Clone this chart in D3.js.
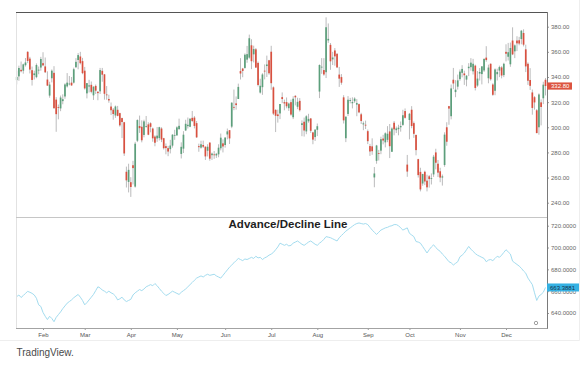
<!DOCTYPE html>
<html><head><meta charset="utf-8">
<script src="https://cdn.jsdelivr.net/npm/d3@7"></script>
<style>
html,body{margin:0;padding:0;background:#fff;}
svg{display:block;font-family:"Liberation Sans",Arial,sans-serif;}
</style></head><body>
<svg id="c" width="588" height="366"></svg>
<script>
// ---- data ----
const holidays = ["2018-02-19","2018-03-30","2018-05-28","2018-07-04","2018-09-03","2018-11-22","2018-12-05","2018-12-25"];
const monthLabels = ["Feb","Mar","Apr","May","Jun","Jul","Aug","Sep","Oct","Nov","Dec"];
const upperTicks = [240,260,280,300,320,340,360,380];
const lowerTicks = [640,660,680,700,720];
const lastPrice = 332.80;
const lastAD = 663.3881;

const opens = [
337.5,340.5,345.7,345.0,349.4,360.0,354.6,345.4,341.5,339.9,345.1,347.5,
351.0,348.4,337.97,325.2,338.99,343.3,322.0,316.1,315.0,320.8,324.5,332.5,334.5,335.5,335.5,347.8,353.5,356.3,352.6,
345.0,326.98,332.4,333.75,325.4,332.9,328.2,328.6,344.9,342.1,326.1,322.5,316.5,314.0,309.4,313.9,311.25,307.3,304.0,264.6,256.5,
256.3,269.8,252.8,289.3,301.0,300.4,293.9,300.7,302.3,303.2,299.0,292.6,291.1,291.4,299.0,291.3,285.0,283.4,282.6,285.4,293.6,
293.6,298.6,278.8,283.0,297.5,300.9,300.4,307.5,307.7,303.3,285.0,283.8,285.9,284.6,281.3,287.8,277.8,278.4,277.6,278.5,283.3,287.2,
285.9,294.3,297.7,300.5,316.2,319.0,322.5,344.7,346.7,347.2,353.8,355.4,365.2,358.0,362.0,351.2,327.6,331.9,345.0,348.7,353.3,
360.1,331.75,313.8,310.2,311.0,324.0,320.0,320.0,315.2,320.0,308.0,325.0,316.3,321.0,301.8,304.4,296.7,304.8,307.0,295.9,292.2,
297.99,328.4,347.8,345.5,343.8,369.1,365.55,354.0,361.1,358.4,341.9,339.9,323.8,291.3,310.6,320.9,319.1,320.7,318.0,318.4,310.3,302.3,302.0,
296.9,285.05,284.8,260.1,273.3,279.5,281.4,291.0,288.0,290.0,296.7,280.5,303.6,297.7,298.5,300.0,301.9,312.9,270.3,
305.8,313.95,303.3,293.95,274.65,264.5,255.25,264.6,257.5,261.0,259.1,262.5,280.0,271.0,265.0,260.0,270.0,300.0,316.8,308.8,337.8,328.0,332.3,
338.3,343.3,342.8,337.9,347.0,347.8,344.5,349.0,333.2,342.7,342.3,345.2,355.4,339.0,350.5,334.0,329.0,342.2,345.1,347.6,341.5,
360.0,356.1,350.1,369.0,360.4,369.0,369.2,370.2,375.0,362.0,350.5,337.6,327.7,323.9,313.5,300.0,319.8,323.1,337.8];

const highs = [
345.0,349.0,352.3,350.6,355.1,360.5,356.0,348.3,345.0,350.8,348.3,356.0,
359.7,355.5,344.5,336.2,346.0,348.6,323.95,318.1,325.2,326.2,335.0,343.1,340.8,340.0,347.4,354.99,359.0,359.99,355.2,
348.0,335.2,337.75,336.4,332.5,334.0,328.8,347.2,347.2,342.4,332.8,325.9,319.7,315.3,317.3,317.0,311.6,307.6,304.3,268.7,270.99,
260.3,273.3,288.4,306.3,309.3,305.5,306.0,308.98,303.95,303.95,299.7,293.6,300.2,300.4,300.0,291.6,287.1,285.2,290.0,294.5,298.0,
300.8,306.85,288.0,296.9,305.98,307.75,307.0,312.99,308.9,304.94,286.96,289.3,289.4,284.65,286.5,288.0,279.9,281.1,279.6,286.5,295.0,290.4,
291.95,299.0,297.8,320.0,330.0,324.5,334.7,354.97,347.2,358.75,364.7,373.7,370.0,364.9,363.0,352.3,338.6,343.0,350.0,357.0,353.6,
364.8,332.5,314.4,314.0,318.5,327.7,322.0,323.7,319.6,322.0,324.7,325.5,323.5,323.2,305.5,307.7,309.6,310.7,307.4,296.4,298.3,
303.0,349.99,355.0,354.98,387.46,382.6,367.0,360.0,363.0,359.0,348.0,342.3,325.5,308.5,324.8,323.4,323.8,323.85,322.4,318.9,311.5,304.6,305.3,
298.2,286.8,291.2,268.35,286.0,282.0,292.5,294.0,296.0,300.9,302.6,300.0,305.0,300.6,302.0,304.6,313.9,314.96,278.0,
311.4,316.8,304.6,294.0,274.9,267.8,263.0,265.5,262.25,261.99,263.3,278.0,282.9,274.0,267.8,262.4,296.0,304.0,316.99,334.0,347.2,337.5,341.9,
346.0,349.4,345.0,341.4,351.0,355.0,354.4,349.8,344.7,347.1,348.6,355.0,364.5,349.8,350.8,335.0,346.8,346.6,349.0,348.6,351.3,
366.0,367.1,367.4,379.5,365.9,372.4,371.9,377.4,377.9,365.7,351.6,347.0,330.0,324.8,314.5,326.97,322.2,336.2,339.2];

const lows = [
334.1,337.0,343.7,342.6,348.3,351.0,342.8,333.2,338.0,339.0,342.2,345.0,
348.6,343.2,333.0,323.5,335.7,314.6,296.4,306.3,312.8,318.3,322.7,331.6,333.3,333.0,334.8,347.1,346.1,350.0,342.2,
330.0,322.97,327.7,327.0,321.74,326.5,321.5,326.5,336.2,322.0,321.9,319.5,309.7,306.0,307.5,308.7,300.5,291.4,277.2,252.1,248.2,
244.6,254.5,252.0,288.2,295.5,288.0,292.0,299.7,293.7,295.98,288.5,284.9,288.4,289.5,288.2,282.3,278.5,277.0,279.2,283.8,290.0,
293.1,297.8,275.2,279.5,297.0,299.0,300.05,304.1,299.1,291.6,280.5,283.0,283.5,274.0,276.8,273.4,274.0,274.9,275.6,276.15,281.6,280.0,
283.8,290.4,286.7,299.3,313.6,314.0,322.5,338.0,339.8,346.6,351.3,354.5,346.25,351.6,347.2,332.5,326.8,325.8,338.1,340.0,341.8,
329.85,309.7,296.2,303.7,306.5,319.2,313.5,315.1,313.0,309.2,306.5,317.4,314.4,312.5,292.9,292.6,294.5,303.6,295.5,286.5,289.1,
293.0,323.2,342.5,341.0,339.15,367.1,345.7,349.5,349.0,347.1,332.1,333.8,303.0,288.2,309.0,319.0,315.0,319.4,308.8,311.2,302.6,297.7,298.6,
286.6,277.2,278.1,252.3,271.0,273.6,278.6,286.4,284.0,288.1,275.5,280.5,293.6,295.4,293.6,296.5,301.1,306.9,260.6,
290.4,299.2,291.6,277.7,260.0,249.0,253.5,254.0,249.0,252.0,254.5,260.5,266.5,260.4,256.3,253.6,268.6,285.3,302.0,306.3,330.3,323.9,330.0,
337.0,339.7,333.7,332.6,340.7,345.0,342.0,329.3,332.2,337.2,334.1,344.0,352.1,335.0,337.1,325.0,325.5,337.2,339.9,338.9,339.9,
352.4,353.1,348.1,357.4,355.0,360.6,365.2,366.0,364.3,343.9,333.7,329.7,310.0,314.0,295.2,294.1,301.5,318.4,325.3];

const closes = [
340.06,347.16,344.57,350.02,351.56,352.79,345.89,337.64,342.85,349.53,345.82,354.31,
349.25,343.75,333.13,333.97,345.00,315.23,310.42,315.73,323.66,322.31,334.07,335.49,334.77,333.30,346.17,352.05,357.42,350.99,343.06,
330.93,335.12,333.35,328.20,332.30,329.10,327.17,345.51,341.84,326.63,325.60,321.35,313.56,310.55,316.53,309.10,301.54,304.18,279.18,257.78,266.13,
252.48,267.53,286.94,305.72,299.30,289.66,304.70,300.93,294.08,300.34,291.21,287.69,293.35,300.08,290.24,283.37,283.46,280.69,285.48,294.08,293.90,
299.92,301.15,284.45,294.09,302.77,301.97,306.85,305.02,301.06,291.97,284.18,286.48,284.54,276.82,284.49,275.01,279.07,277.85,278.85,283.76,291.72,284.73,
291.82,296.74,291.13,319.50,316.09,317.66,332.10,342.77,344.78,357.72,358.17,370.83,352.55,362.22,347.51,333.63,333.01,342.00,344.50,349.93,342.95,
335.07,310.86,309.16,308.90,318.51,322.47,318.96,316.71,318.87,310.10,322.69,323.85,320.23,313.58,303.20,297.43,308.74,306.65,297.18,290.17,298.14,
300.84,349.54,348.17,341.99,379.57,370.34,352.45,355.49,356.41,347.64,338.69,335.45,305.50,308.44,321.90,321.64,320.10,322.82,319.27,311.86,305.01,303.15,301.66,
288.95,280.74,280.95,263.24,285.50,279.44,290.54,289.46,295.20,294.84,284.96,299.02,298.33,299.10,299.68,300.99,309.58,307.52,264.77,
310.70,301.02,294.80,281.83,261.95,250.56,262.80,256.88,252.23,258.78,259.59,276.59,271.78,263.91,260.00,260.95,294.14,288.50,314.86,330.90,334.85,329.90,337.32,
344.28,346.41,341.40,341.06,348.16,351.40,350.51,331.28,338.73,344.00,348.44,354.31,353.47,347.49,338.19,325.83,346.00,343.92,347.87,341.17,350.48,
358.49,359.70,363.06,357.97,365.15,366.76,366.60,376.79,365.71,348.42,337.03,332.97,315.38,319.77,295.39,326.09,316.13,333.87,332.80];

const adLine = [
655.0,656.5,654.2,656.0,658.0,659.8,659.0,658.0,656.5,653.5,
647.5,646.0,640.5,637.0,634.0,637.0,635.0,632.0,636.0,638.5,
641.0,644.0,646.5,649.0,650.5,652.0,654.0,655.5,657.0,654.5,
651.5,647.5,649.5,652.0,654.5,657.0,660.5,664.0,663.0,661.0,
660.0,658.5,660.0,658.5,657.5,655.5,652.0,653.0,654.5,652.0,
650.5,651.5,652.5,656.5,658.5,660.0,661.5,660.5,662.0,664.0,
665.0,666.0,665.0,667.0,665.0,662.5,660.0,658.0,656.0,657.0,
658.5,660.0,659.0,658.0,657.0,659.0,660.5,662.0,664.0,666.0,
668.0,670.0,672.0,673.0,674.0,673.0,674.5,675.5,674.5,675.0,
675.5,674.0,673.0,672.0,674.5,677.0,679.5,682.0,684.0,686.0,
688.0,690.0,689.0,688.0,689.5,689.0,690.0,691.0,690.0,692.0,
690.5,691.0,689.0,690.5,691.5,693.0,694.0,695.5,698.0,700.5,
704.0,703.0,702.0,703.0,701.5,702.0,704.0,705.0,706.0,704.5,
703.0,702.0,703.5,705.0,706.0,704.5,703.0,702.0,704.0,705.5,
707.5,710.0,709.5,709.0,708.0,707.0,706.0,709.0,711.0,713.0,
715.0,716.5,718.0,719.5,721.0,722.0,722.5,722.0,721.5,722.0,
721.0,718.5,716.0,714.0,712.0,714.0,716.0,717.0,718.0,718.5,
719.5,720.0,721.0,721.0,720.0,718.0,716.0,717.0,718.0,713.0,
711.5,710.0,705.5,705.0,704.0,701.0,698.0,695.0,698.0,700.5,
702.5,700.0,698.0,696.5,694.0,692.0,689.5,687.0,686.0,684.0,
685.5,687.0,691.5,693.0,695.0,698.0,701.0,698.5,696.5,694.5,
693.0,692.0,691.0,690.0,687.0,688.5,689.0,688.0,690.0,692.0,
691.0,693.0,695.5,698.0,696.0,694.0,687.5,686.0,684.5,683.0,
681.0,678.5,676.5,672.0,669.0,666.0,658.5,651.5,655.5,657.0,
659.0,663.3881];

// ---- categories: trading days ----
const fmt = d3.timeFormat("%Y-%m-%d");
const dates = [];
for (let d = new Date(2018,0,16); d <= new Date(2018,11,31); d.setDate(d.getDate()+1)) {
  const w = d.getDay(); const s = fmt(d);
  if (w > 0 && w < 6 && !holidays.includes(s)) dates.push(s);
}
const n = Math.min(dates.length, opens.length);
const cats = dates.slice(0, n);

const svg = d3.select("#c");
const x = d3.scalePoint().domain(cats).range([16.7, 545.5]);
const yTop = d3.scaleLinear().domain([240, 380]).range([202.7, 26.7]);
const yBot = d3.scaleLinear().domain([640, 720]).range([313, 225.7]);

// frame
const frame = svg.append("g").attr("fill","none");
frame.append("line").attr("x1",579.5).attr("x2",579.5).attr("y1",0).attr("y2",340.5).attr("stroke","#eeeeee");
frame.append("line").attr("x1",0).attr("x2",579.5).attr("y1",340.5).attr("y2",340.5).attr("stroke","#eeeeee");
frame.append("line").attr("x1",16.5).attr("x2",16.5).attr("y1",12).attr("y2",328).attr("stroke","#e2e2e2");
frame.append("line").attr("x1",16).attr("x2",547).attr("y1",217.5).attr("y2",217.5).attr("stroke","#c6c6c6");

// candles
const candles = cats.map((d,i)=>({d, o:opens[i], h:highs[i], l:lows[i], c:closes[i]}));
const gC = svg.append("g");
gC.selectAll("line").data(candles).join("line")
  .attr("x1", d=>x(d.d)).attr("x2", d=>x(d.d))
  .attr("y1", d=>yTop(Math.max(d.h,d.o,d.c))).attr("y2", d=>yTop(Math.min(d.l,d.o,d.c)))
  .attr("stroke","#a9a9ab").attr("stroke-width",0.8);
gC.selectAll("rect").data(candles).join("rect")
  .attr("x", d=>x(d.d)-0.85).attr("width",1.7)
  .attr("y", d=>yTop(Math.max(d.o,d.c)))
  .attr("height", d=>Math.max(0.8, Math.abs(yTop(d.o)-yTop(d.c))))
  .attr("fill", d=> d.c >= d.o ? "#5c9f7b" : "#d9503f");

// A/D line
const ad = cats.map((d,i)=>({d, v:adLine[i]}));
svg.append("path").datum(ad)
  .attr("fill","none").attr("stroke","#a3dcef").attr("stroke-width",1)
  .attr("d", d3.line().x(d=>x(d.d)).y(d=>yBot(d.v)));

// title
svg.append("text").attr("x",288).attr("y",228).attr("text-anchor","middle")
  .attr("font-size",11.5).attr("font-weight","bold").attr("fill","#1f1f1f")
  .text("Advance/Decline Line");

// axes
function styleAxis(g){
  g.select(".domain").remove();
  g.selectAll(".tick line").attr("stroke","#9a9a9a");
  g.selectAll(".tick text").attr("font-size",6).attr("fill","#666").attr("font-family","'Liberation Sans',Arial,sans-serif");
}
svg.append("g").attr("transform","translate(547,0)")
  .call(d3.axisRight(yTop).tickValues(upperTicks).tickFormat(d3.format(".2f")).tickSize(2).tickPadding(2))
  .call(styleAxis);
svg.append("g").attr("transform","translate(547,0)")
  .call(d3.axisRight(yBot).tickValues(lowerTicks).tickFormat(d3.format(".4f")).tickSize(2).tickPadding(2))
  .call(styleAxis);

const monthStarts = [];
monthLabels.forEach((lab, k) => {
  const first = cats.find(s => +s.slice(5,7) === k + 2);
  if (first) monthStarts.push(first);
});
const labMap = {}; monthStarts.forEach((s,k)=>labMap[s]=monthLabels[k]);
svg.append("g").attr("transform","translate(0,328)")
  .call(d3.axisBottom(x).tickValues(monthStarts).tickFormat(s=>labMap[s]).tickSize(2).tickPadding(3.2))
  .call(styleAxis)
  .selectAll(".tick text").attr("fill","#555");

// borders over
frame.raise();
svg.append("line").attr("x1",16).attr("x2",547.5).attr("y1",12.5).attr("y2",12.5).attr("stroke","#555");
svg.append("line").attr("x1",547.5).attr("x2",547.5).attr("y1",12).attr("y2",329).attr("stroke","#7a7a7a");
svg.append("line").attr("x1",16).attr("x2",547.5).attr("y1",328.5).attr("y2",328.5).attr("stroke","#a3a3a3");

// last value labels
const yp = yTop(lastPrice);
svg.append("rect").attr("x",547).attr("y",yp-3.6).attr("width",25).attr("height",7.2).attr("fill","#dc5440");
svg.append("text").attr("x",551).attr("y",yp).attr("dy","0.34em").attr("font-size",6).attr("fill","#fff").text(d3.format(".2f")(lastPrice));
const ya = yBot(lastAD);
svg.append("rect").attr("x",547).attr("y",ya-4).attr("width",32).attr("height",8).attr("fill","#35b1e3");
svg.append("text").attr("x",550).attr("y",ya).attr("dy","0.34em").attr("font-size",6).attr("fill","#15324d").text(d3.format(".4f")(lastAD));

// small settings glyph
svg.append("circle").attr("cx",536).attr("cy",323).attr("r",1.7).attr("fill","none").attr("stroke","#888").attr("stroke-width",0.8);

// footer
svg.append("text").attr("x",16.5).attr("y",356).attr("font-size",10).attr("fill","#4a4a4a").text("TradingView.");
</script>
</body></html>
